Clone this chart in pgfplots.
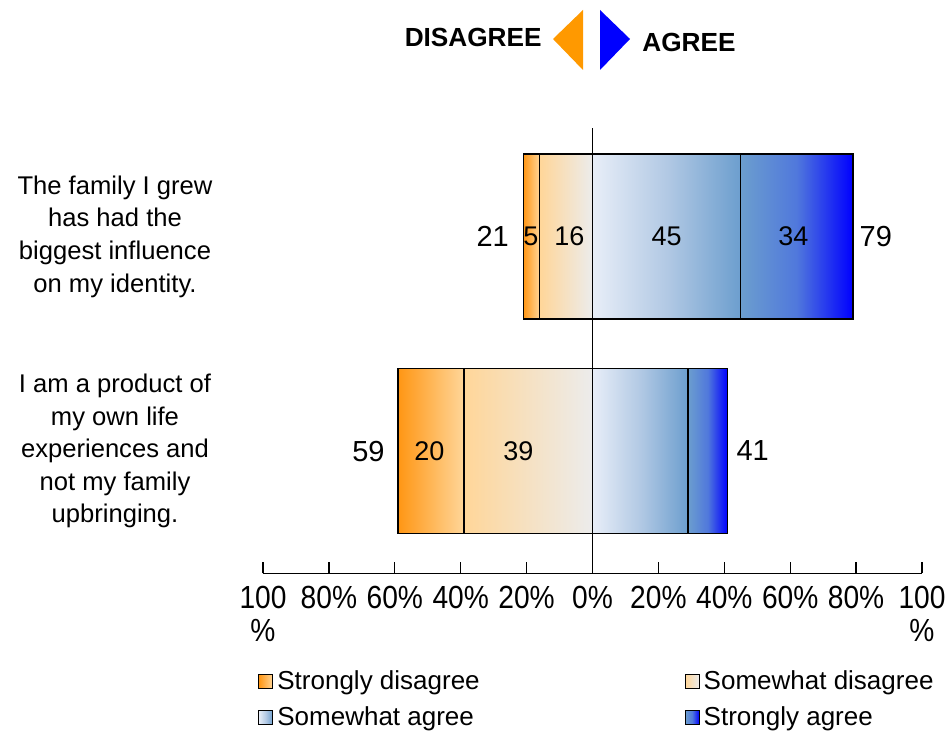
\documentclass[border=0pt]{standalone}
\usepackage{pgfplots}
\pgfplotsset{compat=1.18}
\usepackage{fontspec}
\setmainfont{Liberation Sans}
\newfontfamily\ticksfont{Liberation Sans}[FakeStretch=0.88]
\definecolor{sdA}{RGB}{255,150,20}
\definecolor{sdB}{RGB}{255,214,153}
\definecolor{midg}{RGB}{236,236,236}
\definecolor{saA}{RGB}{232,238,248}
\definecolor{saM}{RGB}{178,201,228}
\definecolor{saB}{RGB}{108,158,206}
\definecolor{stM}{RGB}{80,120,220}
\definecolor{stB}{RGB}{0,0,255}
\definecolor{hdrO}{RGB}{255,153,0}
\tikzset{segnum/.style={font=\fontsize{13.5}{15}\selectfont}, totnum/.style={font=\fontsize{14.5}{16}\selectfont}}
\pgfplotsset{
  sq legend/.style={legend image code/.code={\draw[##1, line width=0.5pt] (0pt,-3.5pt) rectangle (7pt,3.5pt);}},
  base/.style={at={(0,0)}, anchor=south west, scale only axis, width=329.5pt, height=222.75pt,
    xbar stacked, bar width=82.5pt, xmin=-100, xmax=100, ymin=-0.571, ymax=1.506, enlarge x limits=false},
  seg/.style={draw=black, line width=0.7pt},
  sdS/.style={seg, left color=sdA, right color=sdB},
  swdS/.style={seg, left color=sdB, right color=midg},
  saS/.style={seg, left color=saA, right color=saB, middle color=saM},
  stS/.style={seg, left color=saB, right color=stB, middle color=stM}
}
\begin{document}
\begin{tikzpicture}
\path[use as bounding box] (-131.5pt,-78.75pt) rectangle (341.5pt,286.75pt);
% disagree side, top row (drawn leftwards)
\begin{axis}[base, x dir=reverse, hide axis]
\addplot[swdS] coordinates {(16,1)};
\addplot[sdS] coordinates {(5,1)};
\end{axis}
% disagree side, bottom row
\begin{axis}[base, x dir=reverse, hide axis]
\addplot[swdS] coordinates {(39,0)};
\addplot[sdS] coordinates {(20,0)};
\end{axis}
% agree side, top row
\begin{axis}[base, hide axis]
\addplot[saS] coordinates {(45,1)};
\addplot[stS] coordinates {(34,1)};
\end{axis}
% agree side, bottom row + axis, labels, legend
\begin{axis}[base,
  axis x line*=bottom,
  y axis line style={draw=none},
  x axis line style={line width=0.7pt},
  ytick={0,1},
  yticklabels={{I am a product of\\my own life\\experiences and\\not my family\\upbringing.},{The family I grew\\has had the\\biggest influence\\on my identity.}},
  yticklabel style={anchor=center, xshift=-74pt, align=center, font=\fontsize{12.8}{16.3}\selectfont},
  ytick style={draw=none},
  xtick={-100,-80,-60,-40,-20,0,20,40,60,80,100},
  xticklabels={{100\\\%},80\%,60\%,40\%,20\%,0\%,20\%,40\%,60\%,80\%,{100\\\%}},
  xticklabel style={align=center, yshift=-3pt, font=\ticksfont\fontsize{16}{16.5}\selectfont},
  tick align=inside, major tick length=5.5pt,
  xtick style={line width=0.7pt, black},
  legend columns=2,
  legend cell align=left,
  legend style={at={(-0.0167,-0.1986)}, anchor=north west, draw=none, fill=none,
    font=\fontsize{13}{15}\selectfont,
    /tikz/every even column/.append style={column sep=100.5pt},
    row sep=3pt},
]
\addlegendimage{sdS, sq legend}
\addlegendentry{Strongly disagree}
\addlegendimage{swdS, sq legend}
\addlegendentry{Somewhat disagree}
\addplot[saS, sq legend] coordinates {(29,0)};
\addlegendentry{Somewhat agree}
\addplot[stS, sq legend] coordinates {(12,0)};
\addlegendentry{Strongly agree}
\draw[line width=0.7pt] (axis cs:0,-0.571) -- (axis cs:0,1.506);
\node[segnum] at (axis cs:-18.7,1) {5};
\node[segnum] at (axis cs:-7,1) {16};
\node[segnum] at (axis cs:22.5,1) {45};
\node[segnum] at (axis cs:61,1) {34};
\node[segnum] at (axis cs:-49.5,0) {20};
\node[segnum] at (axis cs:-22.5,0) {39};
\node[segnum] at (axis cs:14,0) {29};
\node[segnum] at (axis cs:34.5,0) {12};
\node[totnum] at (axis cs:-30.3,1) {21};
\node[totnum] at (axis cs:86,1) {79};
\node[totnum] at (axis cs:-68,0) {59};
\node[totnum] at (axis cs:48.6,0) {41};
\end{axis}
\fill[hdrO] (145pt,267.25pt) -- (160pt,281.75pt) -- (160pt,251.75pt) -- cycle;
\fill[stB] (168.5pt,281.75pt) -- (168.5pt,251.75pt) -- (183.5pt,267.25pt) -- cycle;
\node[anchor=base east, inner sep=0pt, font=\bfseries\fontsize{13.1}{15}\selectfont] at (139.5pt,263.25pt) {DISAGREE};
\node[anchor=base west, inner sep=0pt, font=\bfseries\fontsize{13.1}{15}\selectfont] at (189.5pt,260.75pt) {AGREE};
\end{tikzpicture}
\end{document}
